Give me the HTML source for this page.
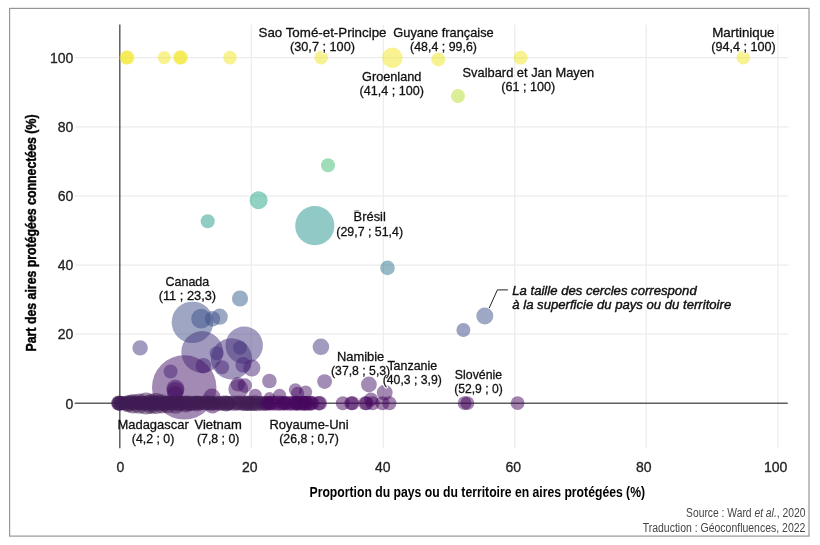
<!DOCTYPE html>
<html lang="fr"><head><meta charset="utf-8"><title>Aires protégées connectées</title>
<style>
html,body{margin:0;padding:0;background:#fff;}
body{width:820px;height:545px;position:relative;overflow:hidden;font-family:"Liberation Sans",sans-serif;}
</style></head><body>
<svg width="820" height="545" viewBox="0 0 820 545" style="position:absolute;left:0;top:0;will-change:transform;font-family:'Liberation Sans',sans-serif">
<rect x="9.6" y="8.4" width="799.4" height="527.7" fill="none" stroke="#9a9494" stroke-width="1.2"/>
<line x1="251.3" y1="24.8" x2="251.3" y2="448.6" stroke="#ececec" stroke-width="1.2"/>
<line x1="383.4" y1="24.8" x2="383.4" y2="448.6" stroke="#ececec" stroke-width="1.2"/>
<line x1="514.8" y1="24.8" x2="514.8" y2="448.6" stroke="#ececec" stroke-width="1.2"/>
<line x1="646.2" y1="24.8" x2="646.2" y2="448.6" stroke="#ececec" stroke-width="1.2"/>
<line x1="778" y1="24.8" x2="778" y2="448.6" stroke="#ececec" stroke-width="1.2"/>
<line x1="74.7" y1="57.6" x2="788.2" y2="57.6" stroke="#ececec" stroke-width="1.2"/>
<line x1="74.7" y1="126.8" x2="788.2" y2="126.8" stroke="#ececec" stroke-width="1.2"/>
<line x1="74.7" y1="195.8" x2="788.2" y2="195.8" stroke="#ececec" stroke-width="1.2"/>
<line x1="74.7" y1="265.1" x2="788.2" y2="265.1" stroke="#ececec" stroke-width="1.2"/>
<line x1="74.7" y1="334.1" x2="788.2" y2="334.1" stroke="#ececec" stroke-width="1.2"/>
<line x1="74.7" y1="403.2" x2="787.8" y2="403.2" stroke="#5e5e5e" stroke-width="1.6"/>
<line x1="119.8" y1="24.6" x2="119.8" y2="448.2" stroke="#5e5e5e" stroke-width="1.5"/>
<circle cx="126.4" cy="57.6" r="7.0" fill="rgb(243,229,34)" fill-opacity="0.5"/>
<circle cx="127.6" cy="57.6" r="7.0" fill="rgb(243,229,34)" fill-opacity="0.5"/>
<circle cx="164.3" cy="57.6" r="6.6" fill="rgb(243,229,34)" fill-opacity="0.5"/>
<circle cx="179.9" cy="57.6" r="7.0" fill="rgb(243,229,34)" fill-opacity="0.5"/>
<circle cx="181.1" cy="57.6" r="7.0" fill="rgb(243,229,34)" fill-opacity="0.5"/>
<circle cx="230.0" cy="57.6" r="6.8" fill="rgb(243,229,34)" fill-opacity="0.5"/>
<circle cx="321.2" cy="57.6" r="6.8" fill="rgb(243,229,34)" fill-opacity="0.5"/>
<circle cx="392.4" cy="57.7" r="10.2" fill="rgb(243,229,34)" fill-opacity="0.5"/>
<circle cx="438.3" cy="59.4" r="7.0" fill="rgb(240,229,34)" fill-opacity="0.5"/>
<circle cx="520.6" cy="57.7" r="7.0" fill="rgb(243,229,34)" fill-opacity="0.5"/>
<circle cx="743.3" cy="57.7" r="6.8" fill="rgb(243,229,34)" fill-opacity="0.5"/>
<circle cx="458.0" cy="96.0" r="7.0" fill="rgb(182,221,43)" fill-opacity="0.5"/>
<circle cx="328.0" cy="165.3" r="7.0" fill="rgb(64,188,114)" fill-opacity="0.5"/>
<circle cx="258.6" cy="200.2" r="9.0" fill="rgb(34,165,133)" fill-opacity="0.5"/>
<circle cx="207.7" cy="221.3" r="7.0" fill="rgb(33,151,138)" fill-opacity="0.5"/>
<circle cx="314.8" cy="225.7" r="19.6" fill="rgb(33,148,139)" fill-opacity="0.5"/>
<circle cx="387.5" cy="267.9" r="7.3" fill="rgb(43,118,142)" fill-opacity="0.5"/>
<circle cx="484.8" cy="316.0" r="8.5" fill="rgb(59,82,138)" fill-opacity="0.5"/>
<circle cx="463.4" cy="330.0" r="7.0" fill="rgb(64,71,136)" fill-opacity="0.5"/>
<circle cx="240.0" cy="298.5" r="8.1" fill="rgb(53,96,141)" fill-opacity="0.5"/>
<circle cx="192.5" cy="322.2" r="20.8" fill="rgb(61,77,137)" fill-opacity="0.5"/>
<circle cx="201.1" cy="318.7" r="9.9" fill="rgb(60,80,138)" fill-opacity="0.5"/>
<circle cx="212.5" cy="318.7" r="7.7" fill="rgb(60,80,138)" fill-opacity="0.5"/>
<circle cx="219.7" cy="316.7" r="8.1" fill="rgb(59,82,138)" fill-opacity="0.5"/>
<circle cx="140.1" cy="347.9" r="7.7" fill="rgb(68,55,128)" fill-opacity="0.5"/>
<circle cx="202.2" cy="352.0" r="20.9" fill="rgb(69,51,126)" fill-opacity="0.5"/>
<circle cx="244.2" cy="345.3" r="18.7" fill="rgb(67,58,129)" fill-opacity="0.5"/>
<circle cx="231.5" cy="358.8" r="20.6" fill="rgb(70,45,122)" fill-opacity="0.5"/>
<circle cx="240.0" cy="347.8" r="7.0" fill="rgb(68,55,128)" fill-opacity="0.5"/>
<circle cx="216.7" cy="353.2" r="7.0" fill="rgb(69,50,125)" fill-opacity="0.5"/>
<circle cx="203.4" cy="365.7" r="7.8" fill="rgb(71,39,119)" fill-opacity="0.5"/>
<circle cx="222.1" cy="367.3" r="7.0" fill="rgb(72,37,118)" fill-opacity="0.5"/>
<circle cx="243.2" cy="364.9" r="7.8" fill="rgb(71,39,119)" fill-opacity="0.5"/>
<circle cx="251.8" cy="368.0" r="8.6" fill="rgb(72,37,117)" fill-opacity="0.5"/>
<circle cx="320.9" cy="346.8" r="8.3" fill="rgb(68,56,128)" fill-opacity="0.5"/>
<circle cx="184.2" cy="387.4" r="32.2" fill="rgb(71,21,105)" fill-opacity="0.5"/>
<circle cx="170.6" cy="371.5" r="7.0" fill="rgb(72,34,115)" fill-opacity="0.5"/>
<circle cx="175.4" cy="388.5" r="9.0" fill="rgb(71,20,104)" fill-opacity="0.5"/>
<circle cx="175.4" cy="390.5" r="8.8" fill="rgb(71,18,102)" fill-opacity="0.5"/>
<circle cx="175.2" cy="394.0" r="8.0" fill="rgb(71,15,100)" fill-opacity="0.5"/>
<circle cx="212.0" cy="397.0" r="8.5" fill="rgb(70,13,98)" fill-opacity="0.5"/>
<circle cx="212.5" cy="405.5" r="8.0" fill="rgb(70,8,94)" fill-opacity="0.5"/>
<circle cx="237.9" cy="384.3" r="7.3" fill="rgb(71,23,107)" fill-opacity="0.5"/>
<circle cx="244.8" cy="385.6" r="7.3" fill="rgb(71,22,106)" fill-opacity="0.5"/>
<circle cx="238.3" cy="389.0" r="10.0" fill="rgb(71,20,103)" fill-opacity="0.5"/>
<circle cx="255.3" cy="395.3" r="6.6" fill="rgb(70,14,99)" fill-opacity="0.5"/>
<circle cx="269.4" cy="381.0" r="7.3" fill="rgb(71,26,109)" fill-opacity="0.5"/>
<circle cx="279.6" cy="395.3" r="6.6" fill="rgb(70,14,99)" fill-opacity="0.5"/>
<circle cx="269.5" cy="397.5" r="5.5" fill="rgb(70,13,98)" fill-opacity="0.5"/>
<circle cx="295.4" cy="389.8" r="6.6" fill="rgb(71,19,103)" fill-opacity="0.5"/>
<circle cx="297.6" cy="393.4" r="6.6" fill="rgb(71,16,101)" fill-opacity="0.5"/>
<circle cx="305.6" cy="392.0" r="6.6" fill="rgb(71,17,101)" fill-opacity="0.5"/>
<circle cx="324.6" cy="381.6" r="7.4" fill="rgb(71,26,108)" fill-opacity="0.5"/>
<circle cx="368.9" cy="384.5" r="7.9" fill="rgb(71,23,106)" fill-opacity="0.5"/>
<circle cx="384.7" cy="392.6" r="7.9" fill="rgb(71,17,101)" fill-opacity="0.5"/>
<circle cx="371.0" cy="399.5" r="7.0" fill="rgb(70,11,96)" fill-opacity="0.5"/>
<circle cx="118.6" cy="403.4" r="7.3" fill="rgb(63,28,84)" fill-opacity="0.5"/>
<circle cx="119.4" cy="403.4" r="7.3" fill="rgb(63,28,84)" fill-opacity="0.5"/>
<circle cx="120.3" cy="403.4" r="7.3" fill="rgb(63,28,84)" fill-opacity="0.5"/>
<circle cx="118.8" cy="402.9" r="7.5" fill="rgb(63,28,84)" fill-opacity="0.5"/>
<circle cx="121.1" cy="403.1" r="7.1" fill="rgb(63,28,84)" fill-opacity="0.5"/>
<circle cx="123.1" cy="403.1" r="7.1" fill="rgb(63,28,84)" fill-opacity="0.5"/>
<circle cx="125.6" cy="403.5" r="7.2" fill="rgb(63,28,84)" fill-opacity="0.5"/>
<circle cx="128.0" cy="403.6" r="7.4" fill="rgb(63,28,84)" fill-opacity="0.5"/>
<circle cx="130.8" cy="402.8" r="7.6" fill="rgb(63,28,84)" fill-opacity="0.5"/>
<circle cx="132.2" cy="402.9" r="7.3" fill="rgb(63,28,84)" fill-opacity="0.5"/>
<circle cx="135.1" cy="403.3" r="7.5" fill="rgb(63,28,84)" fill-opacity="0.5"/>
<circle cx="137.8" cy="402.9" r="7.1" fill="rgb(63,28,84)" fill-opacity="0.5"/>
<circle cx="140.2" cy="403.1" r="7.3" fill="rgb(63,28,84)" fill-opacity="0.5"/>
<circle cx="142.5" cy="403.0" r="7.6" fill="rgb(63,28,84)" fill-opacity="0.5"/>
<circle cx="145.0" cy="403.3" r="7.4" fill="rgb(63,28,84)" fill-opacity="0.5"/>
<circle cx="148.4" cy="403.0" r="7.7" fill="rgb(63,28,84)" fill-opacity="0.5"/>
<circle cx="150.2" cy="403.4" r="7.2" fill="rgb(63,28,84)" fill-opacity="0.5"/>
<circle cx="152.3" cy="403.3" r="7.6" fill="rgb(63,28,84)" fill-opacity="0.5"/>
<circle cx="155.7" cy="403.1" r="7.5" fill="rgb(63,28,84)" fill-opacity="0.5"/>
<circle cx="158.0" cy="403.2" r="7.6" fill="rgb(63,28,84)" fill-opacity="0.5"/>
<circle cx="160.8" cy="403.3" r="7.1" fill="rgb(63,28,84)" fill-opacity="0.5"/>
<circle cx="163.7" cy="403.6" r="7.6" fill="rgb(63,28,84)" fill-opacity="0.5"/>
<circle cx="165.7" cy="403.3" r="7.1" fill="rgb(63,28,84)" fill-opacity="0.5"/>
<circle cx="168.0" cy="402.9" r="7.1" fill="rgb(63,28,84)" fill-opacity="0.5"/>
<circle cx="170.7" cy="403.0" r="7.3" fill="rgb(63,28,84)" fill-opacity="0.5"/>
<circle cx="173.5" cy="403.2" r="7.4" fill="rgb(63,28,84)" fill-opacity="0.5"/>
<circle cx="177.1" cy="403.5" r="7.3" fill="rgb(63,28,84)" fill-opacity="0.5"/>
<circle cx="179.1" cy="403.5" r="7.7" fill="rgb(63,28,84)" fill-opacity="0.5"/>
<circle cx="181.1" cy="403.0" r="7.2" fill="rgb(63,28,84)" fill-opacity="0.5"/>
<circle cx="184.0" cy="403.0" r="7.1" fill="rgb(63,28,84)" fill-opacity="0.5"/>
<circle cx="186.2" cy="403.3" r="7.7" fill="rgb(63,28,84)" fill-opacity="0.5"/>
<circle cx="189.0" cy="403.3" r="7.5" fill="rgb(63,28,84)" fill-opacity="0.5"/>
<circle cx="191.4" cy="403.4" r="7.6" fill="rgb(63,28,84)" fill-opacity="0.5"/>
<circle cx="193.7" cy="403.1" r="7.2" fill="rgb(63,28,84)" fill-opacity="0.5"/>
<circle cx="196.0" cy="402.9" r="7.2" fill="rgb(63,28,84)" fill-opacity="0.5"/>
<circle cx="198.5" cy="402.8" r="7.1" fill="rgb(63,28,84)" fill-opacity="0.5"/>
<circle cx="200.4" cy="403.1" r="7.1" fill="rgb(63,28,84)" fill-opacity="0.5"/>
<circle cx="203.8" cy="402.9" r="7.3" fill="rgb(63,28,84)" fill-opacity="0.5"/>
<circle cx="205.9" cy="402.9" r="7.6" fill="rgb(63,28,84)" fill-opacity="0.5"/>
<circle cx="209.0" cy="403.2" r="7.2" fill="rgb(63,28,84)" fill-opacity="0.5"/>
<circle cx="210.9" cy="403.0" r="7.6" fill="rgb(63,28,84)" fill-opacity="0.5"/>
<circle cx="212.8" cy="403.6" r="7.4" fill="rgb(63,28,84)" fill-opacity="0.5"/>
<circle cx="215.5" cy="402.8" r="7.4" fill="rgb(63,28,84)" fill-opacity="0.5"/>
<circle cx="218.8" cy="403.4" r="7.3" fill="rgb(63,28,84)" fill-opacity="0.5"/>
<circle cx="220.4" cy="403.4" r="7.4" fill="rgb(63,28,84)" fill-opacity="0.5"/>
<circle cx="223.4" cy="403.0" r="7.6" fill="rgb(63,28,84)" fill-opacity="0.5"/>
<circle cx="226.9" cy="403.4" r="7.6" fill="rgb(63,28,84)" fill-opacity="0.5"/>
<circle cx="229.0" cy="403.2" r="7.3" fill="rgb(63,28,84)" fill-opacity="0.5"/>
<circle cx="230.8" cy="403.0" r="7.3" fill="rgb(63,28,84)" fill-opacity="0.5"/>
<circle cx="234.4" cy="403.2" r="7.7" fill="rgb(63,28,84)" fill-opacity="0.5"/>
<circle cx="237.4" cy="403.1" r="7.2" fill="rgb(63,28,84)" fill-opacity="0.5"/>
<circle cx="238.9" cy="403.0" r="7.5" fill="rgb(63,28,84)" fill-opacity="0.5"/>
<circle cx="242.4" cy="403.2" r="7.5" fill="rgb(63,28,84)" fill-opacity="0.5"/>
<circle cx="244.5" cy="403.3" r="7.6" fill="rgb(63,28,84)" fill-opacity="0.5"/>
<circle cx="247.9" cy="403.2" r="7.2" fill="rgb(63,28,84)" fill-opacity="0.5"/>
<circle cx="250.3" cy="403.4" r="7.7" fill="rgb(63,28,84)" fill-opacity="0.5"/>
<circle cx="252.8" cy="403.6" r="7.5" fill="rgb(63,28,84)" fill-opacity="0.5"/>
<circle cx="254.7" cy="402.9" r="7.6" fill="rgb(63,28,84)" fill-opacity="0.5"/>
<circle cx="257.5" cy="403.5" r="7.7" fill="rgb(63,28,84)" fill-opacity="0.5"/>
<circle cx="260.3" cy="403.2" r="7.2" fill="rgb(63,28,84)" fill-opacity="0.5"/>
<circle cx="263.0" cy="403.3" r="7.4" fill="rgb(63,28,84)" fill-opacity="0.5"/>
<circle cx="265.4" cy="403.5" r="7.6" fill="rgb(63,28,84)" fill-opacity="0.5"/>
<circle cx="128.0" cy="403.6" r="8.6" fill="rgb(63,28,84)" fill-opacity="0.5"/>
<circle cx="133.0" cy="403.8" r="9.8" fill="rgb(63,28,84)" fill-opacity="0.5"/>
<circle cx="139.0" cy="403.6" r="10.2" fill="rgb(63,28,84)" fill-opacity="0.5"/>
<circle cx="146.0" cy="403.4" r="11.0" fill="rgb(63,28,84)" fill-opacity="0.5"/>
<circle cx="151.0" cy="404.0" r="10.0" fill="rgb(63,28,84)" fill-opacity="0.5"/>
<circle cx="156.0" cy="403.6" r="10.6" fill="rgb(63,28,84)" fill-opacity="0.5"/>
<circle cx="162.0" cy="403.8" r="9.6" fill="rgb(63,28,84)" fill-opacity="0.5"/>
<circle cx="168.0" cy="404.5" r="8.8" fill="rgb(63,28,84)" fill-opacity="0.5"/>
<circle cx="176.0" cy="404.8" r="9.0" fill="rgb(63,28,84)" fill-opacity="0.5"/>
<circle cx="186.0" cy="404.2" r="8.4" fill="rgb(63,28,84)" fill-opacity="0.5"/>
<circle cx="197.0" cy="403.5" r="8.0" fill="rgb(63,28,84)" fill-opacity="0.5"/>
<circle cx="226.0" cy="403.5" r="8.0" fill="rgb(63,28,84)" fill-opacity="0.5"/>
<circle cx="247.0" cy="403.3" r="7.8" fill="rgb(63,28,84)" fill-opacity="0.5"/>
<circle cx="266.5" cy="403.1" r="7.2" fill="rgb(70,8,94)" fill-opacity="0.5"/>
<circle cx="269.3" cy="403.3" r="7.2" fill="rgb(70,8,94)" fill-opacity="0.5"/>
<circle cx="272.4" cy="403.0" r="7.6" fill="rgb(70,8,94)" fill-opacity="0.5"/>
<circle cx="275.3" cy="403.2" r="7.4" fill="rgb(70,8,94)" fill-opacity="0.5"/>
<circle cx="278.8" cy="403.2" r="7.6" fill="rgb(70,8,94)" fill-opacity="0.5"/>
<circle cx="281.9" cy="403.2" r="7.4" fill="rgb(70,8,94)" fill-opacity="0.5"/>
<circle cx="284.5" cy="403.2" r="7.1" fill="rgb(70,8,94)" fill-opacity="0.5"/>
<circle cx="287.1" cy="403.4" r="7.1" fill="rgb(70,8,94)" fill-opacity="0.5"/>
<circle cx="290.2" cy="403.3" r="7.4" fill="rgb(70,8,94)" fill-opacity="0.5"/>
<circle cx="293.1" cy="403.2" r="7.4" fill="rgb(70,8,94)" fill-opacity="0.5"/>
<circle cx="296.5" cy="403.0" r="7.4" fill="rgb(70,8,94)" fill-opacity="0.5"/>
<circle cx="299.4" cy="403.1" r="7.5" fill="rgb(70,8,94)" fill-opacity="0.5"/>
<circle cx="302.5" cy="403.2" r="7.5" fill="rgb(70,8,94)" fill-opacity="0.5"/>
<circle cx="306.0" cy="403.2" r="7.4" fill="rgb(70,8,94)" fill-opacity="0.5"/>
<circle cx="309.1" cy="403.2" r="7.5" fill="rgb(70,8,94)" fill-opacity="0.5"/>
<circle cx="312.2" cy="403.2" r="7.3" fill="rgb(70,8,94)" fill-opacity="0.5"/>
<circle cx="269.8" cy="403.2" r="7.3" fill="rgb(70,8,94)" fill-opacity="0.5"/>
<circle cx="284.4" cy="403.2" r="7.3" fill="rgb(70,8,94)" fill-opacity="0.5"/>
<circle cx="296.1" cy="403.2" r="7.3" fill="rgb(70,8,94)" fill-opacity="0.5"/>
<circle cx="297.5" cy="403.2" r="7.3" fill="rgb(70,8,94)" fill-opacity="0.5"/>
<circle cx="304.2" cy="403.2" r="7.3" fill="rgb(70,8,94)" fill-opacity="0.5"/>
<circle cx="305.5" cy="403.2" r="7.3" fill="rgb(70,8,94)" fill-opacity="0.5"/>
<circle cx="310.7" cy="403.2" r="7.3" fill="rgb(70,8,94)" fill-opacity="0.5"/>
<circle cx="318.6" cy="403.2" r="7.3" fill="rgb(70,8,94)" fill-opacity="0.5"/>
<circle cx="319.8" cy="403.2" r="7.3" fill="rgb(70,8,94)" fill-opacity="0.5"/>
<circle cx="342.8" cy="403.2" r="7.0" fill="rgb(70,8,94)" fill-opacity="0.5"/>
<circle cx="351.3" cy="403.2" r="7.0" fill="rgb(70,8,94)" fill-opacity="0.5"/>
<circle cx="352.5" cy="403.2" r="7.0" fill="rgb(70,8,94)" fill-opacity="0.5"/>
<circle cx="365.3" cy="403.2" r="7.0" fill="rgb(70,8,94)" fill-opacity="0.5"/>
<circle cx="366.5" cy="403.2" r="7.0" fill="rgb(70,8,94)" fill-opacity="0.5"/>
<circle cx="372.5" cy="403.2" r="7.0" fill="rgb(70,8,94)" fill-opacity="0.5"/>
<circle cx="382.4" cy="403.2" r="7.0" fill="rgb(70,8,94)" fill-opacity="0.5"/>
<circle cx="389.4" cy="403.2" r="7.0" fill="rgb(70,8,94)" fill-opacity="0.5"/>
<circle cx="464.6" cy="403.2" r="6.9" fill="rgb(70,8,94)" fill-opacity="0.5"/>
<circle cx="467.4" cy="403.2" r="6.9" fill="rgb(70,8,94)" fill-opacity="0.5"/>
<circle cx="517.6" cy="403.2" r="6.9" fill="rgb(70,8,94)" fill-opacity="0.5"/>
<text x="322.5" y="37" font-size="13.2" text-anchor="middle" font-weight="normal" font-style="normal" fill="#fff" stroke="#fff" stroke-width="3" stroke-linejoin="round" stroke-opacity="0.9" textLength="128" lengthAdjust="spacingAndGlyphs">Sao Tomé-et-Principe</text>
<text x="322.5" y="51.2" font-size="13.2" text-anchor="middle" font-weight="normal" font-style="normal" fill="#fff" stroke="#fff" stroke-width="3" stroke-linejoin="round" stroke-opacity="0.9" textLength="65" lengthAdjust="spacingAndGlyphs">(30,7 ; 100)</text>
<text x="443.5" y="37" font-size="13.2" text-anchor="middle" font-weight="normal" font-style="normal" fill="#fff" stroke="#fff" stroke-width="3" stroke-linejoin="round" stroke-opacity="0.9" textLength="100.4" lengthAdjust="spacingAndGlyphs">Guyane française</text>
<text x="443.5" y="51.2" font-size="13.2" text-anchor="middle" font-weight="normal" font-style="normal" fill="#fff" stroke="#fff" stroke-width="3" stroke-linejoin="round" stroke-opacity="0.9" textLength="66.8" lengthAdjust="spacingAndGlyphs">(48,4 ; 99,6)</text>
<text x="743.4" y="37" font-size="13.2" text-anchor="middle" font-weight="normal" font-style="normal" fill="#fff" stroke="#fff" stroke-width="3" stroke-linejoin="round" stroke-opacity="0.9" textLength="62.3" lengthAdjust="spacingAndGlyphs">Martinique</text>
<text x="743.4" y="51.2" font-size="13.2" text-anchor="middle" font-weight="normal" font-style="normal" fill="#fff" stroke="#fff" stroke-width="3" stroke-linejoin="round" stroke-opacity="0.9" textLength="64.4" lengthAdjust="spacingAndGlyphs">(94,4 ; 100)</text>
<text x="391.7" y="80.9" font-size="13.2" text-anchor="middle" font-weight="normal" font-style="normal" fill="#fff" stroke="#fff" stroke-width="3" stroke-linejoin="round" stroke-opacity="0.9" textLength="59.4" lengthAdjust="spacingAndGlyphs">Groenland</text>
<text x="391.7" y="95.10000000000001" font-size="13.2" text-anchor="middle" font-weight="normal" font-style="normal" fill="#fff" stroke="#fff" stroke-width="3" stroke-linejoin="round" stroke-opacity="0.9" textLength="64.4" lengthAdjust="spacingAndGlyphs">(41,4 ; 100)</text>
<text x="528.3" y="76.5" font-size="13.2" text-anchor="middle" font-weight="normal" font-style="normal" fill="#fff" stroke="#fff" stroke-width="3" stroke-linejoin="round" stroke-opacity="0.9" textLength="131.5" lengthAdjust="spacingAndGlyphs">Svalbard et Jan Mayen</text>
<text x="528.3" y="90.7" font-size="13.2" text-anchor="middle" font-weight="normal" font-style="normal" fill="#fff" stroke="#fff" stroke-width="3" stroke-linejoin="round" stroke-opacity="0.9" textLength="54" lengthAdjust="spacingAndGlyphs">(61 ; 100)</text>
<text x="369.7" y="221.3" font-size="13.2" text-anchor="middle" font-weight="normal" font-style="normal" fill="#fff" stroke="#fff" stroke-width="3" stroke-linejoin="round" stroke-opacity="0.9" textLength="32.2" lengthAdjust="spacingAndGlyphs">Brésil</text>
<text x="369.7" y="235.5" font-size="13.2" text-anchor="middle" font-weight="normal" font-style="normal" fill="#fff" stroke="#fff" stroke-width="3" stroke-linejoin="round" stroke-opacity="0.9" textLength="66.7" lengthAdjust="spacingAndGlyphs">(29,7 ; 51,4)</text>
<text x="187.4" y="286" font-size="13.2" text-anchor="middle" font-weight="normal" font-style="normal" fill="#fff" stroke="#fff" stroke-width="3" stroke-linejoin="round" stroke-opacity="0.9" textLength="43.7" lengthAdjust="spacingAndGlyphs">Canada</text>
<text x="187.4" y="300.2" font-size="13.2" text-anchor="middle" font-weight="normal" font-style="normal" fill="#fff" stroke="#fff" stroke-width="3" stroke-linejoin="round" stroke-opacity="0.9" textLength="57.5" lengthAdjust="spacingAndGlyphs">(11 ; 23,3)</text>
<text x="360.6" y="360.5" font-size="13.2" text-anchor="middle" font-weight="normal" font-style="normal" fill="#fff" stroke="#fff" stroke-width="3" stroke-linejoin="round" stroke-opacity="0.9" textLength="47.4" lengthAdjust="spacingAndGlyphs">Namibie</text>
<text x="360.6" y="374.7" font-size="13.2" text-anchor="middle" font-weight="normal" font-style="normal" fill="#fff" stroke="#fff" stroke-width="3" stroke-linejoin="round" stroke-opacity="0.9" textLength="59.1" lengthAdjust="spacingAndGlyphs">(37,8 ; 5,3)</text>
<text x="412.3" y="369.6" font-size="13.2" text-anchor="middle" font-weight="normal" font-style="normal" fill="#fff" stroke="#fff" stroke-width="3" stroke-linejoin="round" stroke-opacity="0.9" textLength="49.8" lengthAdjust="spacingAndGlyphs">Tanzanie</text>
<text x="412.3" y="383.8" font-size="13.2" text-anchor="middle" font-weight="normal" font-style="normal" fill="#fff" stroke="#fff" stroke-width="3" stroke-linejoin="round" stroke-opacity="0.9" textLength="59.1" lengthAdjust="spacingAndGlyphs">(40,3 ; 3,9)</text>
<text x="478.5" y="378.8" font-size="13.2" text-anchor="middle" font-weight="normal" font-style="normal" fill="#fff" stroke="#fff" stroke-width="3" stroke-linejoin="round" stroke-opacity="0.9" textLength="47.3" lengthAdjust="spacingAndGlyphs">Slovénie</text>
<text x="478.5" y="393.0" font-size="13.2" text-anchor="middle" font-weight="normal" font-style="normal" fill="#fff" stroke="#fff" stroke-width="3" stroke-linejoin="round" stroke-opacity="0.9" textLength="48.7" lengthAdjust="spacingAndGlyphs">(52,9 ; 0)</text>
<text x="218.2" y="428.7" font-size="13.2" text-anchor="middle" font-weight="normal" font-style="normal" fill="#fff" stroke="#fff" stroke-width="3" stroke-linejoin="round" stroke-opacity="0.9" textLength="47.5" lengthAdjust="spacingAndGlyphs">Vietnam</text>
<text x="218.2" y="442.9" font-size="13.2" text-anchor="middle" font-weight="normal" font-style="normal" fill="#fff" stroke="#fff" stroke-width="3" stroke-linejoin="round" stroke-opacity="0.9" textLength="42.5" lengthAdjust="spacingAndGlyphs">(7,8 ; 0)</text>
<text x="309" y="428.7" font-size="13.2" text-anchor="middle" font-weight="normal" font-style="normal" fill="#fff" stroke="#fff" stroke-width="3" stroke-linejoin="round" stroke-opacity="0.9" textLength="79.2" lengthAdjust="spacingAndGlyphs">Royaume-Uni</text>
<text x="309" y="442.9" font-size="13.2" text-anchor="middle" font-weight="normal" font-style="normal" fill="#fff" stroke="#fff" stroke-width="3" stroke-linejoin="round" stroke-opacity="0.9" textLength="59.5" lengthAdjust="spacingAndGlyphs">(26,8 ; 0,7)</text>
<text x="512.3" y="294.9" font-size="13.4" text-anchor="start" font-weight="normal" font-style="italic" fill="#fff" stroke="#fff" stroke-width="3" stroke-linejoin="round" stroke-opacity="0.9" textLength="184.4" lengthAdjust="spacingAndGlyphs">La taille des cercles correspond</text>
<text x="512.3" y="308.6" font-size="13.4" text-anchor="start" font-weight="normal" font-style="italic" fill="#fff" stroke="#fff" stroke-width="3" stroke-linejoin="round" stroke-opacity="0.9" textLength="218.9" lengthAdjust="spacingAndGlyphs">à la superficie du pays ou du territoire</text>
<polyline points="489.2,308 497.4,289.9 507.9,289.9" fill="none" stroke="#222" stroke-width="1"/>
<text x="73.4" y="62.9" font-size="14" text-anchor="end" font-weight="normal" font-style="normal" fill="#222" stroke="#222" stroke-width="0.3">100</text>
<text x="73.4" y="132.1" font-size="14" text-anchor="end" font-weight="normal" font-style="normal" fill="#222" stroke="#222" stroke-width="0.3">80</text>
<text x="73.4" y="201.10000000000002" font-size="14" text-anchor="end" font-weight="normal" font-style="normal" fill="#222" stroke="#222" stroke-width="0.3">60</text>
<text x="73.4" y="270.40000000000003" font-size="14" text-anchor="end" font-weight="normal" font-style="normal" fill="#222" stroke="#222" stroke-width="0.3">40</text>
<text x="73.4" y="339.40000000000003" font-size="14" text-anchor="end" font-weight="normal" font-style="normal" fill="#222" stroke="#222" stroke-width="0.3">20</text>
<text x="73.4" y="408.5" font-size="14" text-anchor="end" font-weight="normal" font-style="normal" fill="#222" stroke="#222" stroke-width="0.3">0</text>
<text x="120.4" y="471.7" font-size="14" text-anchor="middle" font-weight="normal" font-style="normal" fill="#222" stroke="#222" stroke-width="0.3">0</text>
<text x="249.8" y="471.7" font-size="14" text-anchor="middle" font-weight="normal" font-style="normal" fill="#222" stroke="#222" stroke-width="0.3">20</text>
<text x="382.7" y="471.7" font-size="14" text-anchor="middle" font-weight="normal" font-style="normal" fill="#222" stroke="#222" stroke-width="0.3">40</text>
<text x="513.2" y="471.7" font-size="14" text-anchor="middle" font-weight="normal" font-style="normal" fill="#222" stroke="#222" stroke-width="0.3">60</text>
<text x="643.7" y="471.7" font-size="14" text-anchor="middle" font-weight="normal" font-style="normal" fill="#222" stroke="#222" stroke-width="0.3">80</text>
<text x="775.6" y="471.7" font-size="14" text-anchor="middle" font-weight="normal" font-style="normal" fill="#222" stroke="#222" stroke-width="0.3">100</text>
<text x="322.5" y="37" font-size="13.2" text-anchor="middle" font-weight="normal" font-style="normal" fill="#111" stroke="#111" stroke-width="0.3" textLength="128" lengthAdjust="spacingAndGlyphs">Sao Tomé-et-Principe</text>
<text x="322.5" y="51.2" font-size="13.2" text-anchor="middle" font-weight="normal" font-style="normal" fill="#111" stroke="#111" stroke-width="0.3" textLength="65" lengthAdjust="spacingAndGlyphs">(30,7 ; 100)</text>
<text x="443.5" y="37" font-size="13.2" text-anchor="middle" font-weight="normal" font-style="normal" fill="#111" stroke="#111" stroke-width="0.3" textLength="100.4" lengthAdjust="spacingAndGlyphs">Guyane française</text>
<text x="443.5" y="51.2" font-size="13.2" text-anchor="middle" font-weight="normal" font-style="normal" fill="#111" stroke="#111" stroke-width="0.3" textLength="66.8" lengthAdjust="spacingAndGlyphs">(48,4 ; 99,6)</text>
<text x="743.4" y="37" font-size="13.2" text-anchor="middle" font-weight="normal" font-style="normal" fill="#111" stroke="#111" stroke-width="0.3" textLength="62.3" lengthAdjust="spacingAndGlyphs">Martinique</text>
<text x="743.4" y="51.2" font-size="13.2" text-anchor="middle" font-weight="normal" font-style="normal" fill="#111" stroke="#111" stroke-width="0.3" textLength="64.4" lengthAdjust="spacingAndGlyphs">(94,4 ; 100)</text>
<text x="391.7" y="80.9" font-size="13.2" text-anchor="middle" font-weight="normal" font-style="normal" fill="#111" stroke="#111" stroke-width="0.3" textLength="59.4" lengthAdjust="spacingAndGlyphs">Groenland</text>
<text x="391.7" y="95.10000000000001" font-size="13.2" text-anchor="middle" font-weight="normal" font-style="normal" fill="#111" stroke="#111" stroke-width="0.3" textLength="64.4" lengthAdjust="spacingAndGlyphs">(41,4 ; 100)</text>
<text x="528.3" y="76.5" font-size="13.2" text-anchor="middle" font-weight="normal" font-style="normal" fill="#111" stroke="#111" stroke-width="0.3" textLength="131.5" lengthAdjust="spacingAndGlyphs">Svalbard et Jan Mayen</text>
<text x="528.3" y="90.7" font-size="13.2" text-anchor="middle" font-weight="normal" font-style="normal" fill="#111" stroke="#111" stroke-width="0.3" textLength="54" lengthAdjust="spacingAndGlyphs">(61 ; 100)</text>
<text x="369.7" y="221.3" font-size="13.2" text-anchor="middle" font-weight="normal" font-style="normal" fill="#111" stroke="#111" stroke-width="0.3" textLength="32.2" lengthAdjust="spacingAndGlyphs">Brésil</text>
<text x="369.7" y="235.5" font-size="13.2" text-anchor="middle" font-weight="normal" font-style="normal" fill="#111" stroke="#111" stroke-width="0.3" textLength="66.7" lengthAdjust="spacingAndGlyphs">(29,7 ; 51,4)</text>
<text x="187.4" y="286" font-size="13.2" text-anchor="middle" font-weight="normal" font-style="normal" fill="#111" stroke="#111" stroke-width="0.3" textLength="43.7" lengthAdjust="spacingAndGlyphs">Canada</text>
<text x="187.4" y="300.2" font-size="13.2" text-anchor="middle" font-weight="normal" font-style="normal" fill="#111" stroke="#111" stroke-width="0.3" textLength="57.5" lengthAdjust="spacingAndGlyphs">(11 ; 23,3)</text>
<text x="360.6" y="360.5" font-size="13.2" text-anchor="middle" font-weight="normal" font-style="normal" fill="#111" stroke="#111" stroke-width="0.3" textLength="47.4" lengthAdjust="spacingAndGlyphs">Namibie</text>
<text x="360.6" y="374.7" font-size="13.2" text-anchor="middle" font-weight="normal" font-style="normal" fill="#111" stroke="#111" stroke-width="0.3" textLength="59.1" lengthAdjust="spacingAndGlyphs">(37,8 ; 5,3)</text>
<text x="412.3" y="369.6" font-size="13.2" text-anchor="middle" font-weight="normal" font-style="normal" fill="#111" stroke="#111" stroke-width="0.3" textLength="49.8" lengthAdjust="spacingAndGlyphs">Tanzanie</text>
<text x="412.3" y="383.8" font-size="13.2" text-anchor="middle" font-weight="normal" font-style="normal" fill="#111" stroke="#111" stroke-width="0.3" textLength="59.1" lengthAdjust="spacingAndGlyphs">(40,3 ; 3,9)</text>
<text x="478.5" y="378.8" font-size="13.2" text-anchor="middle" font-weight="normal" font-style="normal" fill="#111" stroke="#111" stroke-width="0.3" textLength="47.3" lengthAdjust="spacingAndGlyphs">Slovénie</text>
<text x="478.5" y="393.0" font-size="13.2" text-anchor="middle" font-weight="normal" font-style="normal" fill="#111" stroke="#111" stroke-width="0.3" textLength="48.7" lengthAdjust="spacingAndGlyphs">(52,9 ; 0)</text>
<text x="153.1" y="428.7" font-size="13.2" text-anchor="middle" font-weight="normal" font-style="normal" fill="#111" stroke="#111" stroke-width="0.3" textLength="71.2" lengthAdjust="spacingAndGlyphs">Madagascar</text>
<text x="153.1" y="442.9" font-size="13.2" text-anchor="middle" font-weight="normal" font-style="normal" fill="#111" stroke="#111" stroke-width="0.3" textLength="42.5" lengthAdjust="spacingAndGlyphs">(4,2 ; 0)</text>
<text x="218.2" y="428.7" font-size="13.2" text-anchor="middle" font-weight="normal" font-style="normal" fill="#111" stroke="#111" stroke-width="0.3" textLength="47.5" lengthAdjust="spacingAndGlyphs">Vietnam</text>
<text x="218.2" y="442.9" font-size="13.2" text-anchor="middle" font-weight="normal" font-style="normal" fill="#111" stroke="#111" stroke-width="0.3" textLength="42.5" lengthAdjust="spacingAndGlyphs">(7,8 ; 0)</text>
<text x="309" y="428.7" font-size="13.2" text-anchor="middle" font-weight="normal" font-style="normal" fill="#111" stroke="#111" stroke-width="0.3" textLength="79.2" lengthAdjust="spacingAndGlyphs">Royaume-Uni</text>
<text x="309" y="442.9" font-size="13.2" text-anchor="middle" font-weight="normal" font-style="normal" fill="#111" stroke="#111" stroke-width="0.3" textLength="59.5" lengthAdjust="spacingAndGlyphs">(26,8 ; 0,7)</text>
<line x1="354.2" y1="210.8" x2="359.2" y2="210.8" stroke="#666" stroke-width="0.8"/>
<text x="512.3" y="294.9" font-size="13.4" text-anchor="start" font-weight="normal" font-style="italic" fill="#111" stroke="#111" stroke-width="0.42" textLength="184.4" lengthAdjust="spacingAndGlyphs">La taille des cercles correspond</text>
<text x="512.3" y="308.6" font-size="13.4" text-anchor="start" font-weight="normal" font-style="italic" fill="#111" stroke="#111" stroke-width="0.42" textLength="218.9" lengthAdjust="spacingAndGlyphs">à la superficie du pays ou du territoire</text>
<text x="309.5" y="496.5" font-size="14" text-anchor="start" font-weight="bold" font-style="normal" fill="#000" textLength="335.6" lengthAdjust="spacingAndGlyphs">Proportion du pays ou du territoire en aires protégées (%)</text>
<text transform="translate(35.5,351.5) rotate(-90)" font-size="14" font-weight="bold" fill="#000" stroke="#000" stroke-width="0.45" textLength="237" lengthAdjust="spacingAndGlyphs">Part des aires protégées connectées (%)</text>
<text x="805.4" y="517" font-size="12.5" text-anchor="end" fill="#444" textLength="119.3" lengthAdjust="spacingAndGlyphs">Source : Ward <tspan font-style="italic">et al.</tspan>, 2020</text>
<text x="805.4" y="532.1" font-size="12.5" text-anchor="end" fill="#444" textLength="162.7" lengthAdjust="spacingAndGlyphs">Traduction : Géoconfluences, 2022</text>
</svg>
</body></html>
